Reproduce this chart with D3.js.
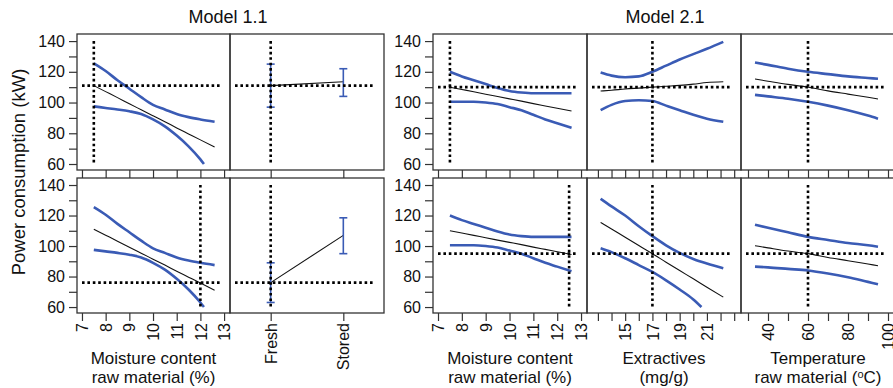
<!DOCTYPE html>
<html>
<head>
<meta charset="utf-8">
<script src="https://d3js.org/d3.v7.min.js"></script>
<style>
    body { margin: 0; background: #fff; }
    svg text { font-family: 'Liberation Sans', Arial, sans-serif; fill: #111; }
    .tick line { stroke: #333; }
</style>
</head>
<body>
<svg id="chart" width="893" height="388"></svg>
<script>
    // ---- data ----
    const yTickValues = [60, 70, 80, 90, 100, 110, 120, 130, 140];
    const yTickLabels = [60, 80, 100, 120, 140];

    // Model 1.1 : moisture (same curve in both rows)
    const m11MoistX = [7.5, 8, 8.5, 9, 9.5, 10, 10.5, 11, 11.5, 12, 12.6];
    const m11Fit = [111, 107.1, 103.2, 99.2, 95.3, 91.4, 87.5, 83.5, 79.6, 75.7, 71];
    const m11Upper = [125.5, 120.5, 114.5, 109, 103.5, 98.5, 95.5, 92.5, 90.5, 89, 87.5];
    const m11LowerX = [7.5, 8, 8.5, 9, 9.5, 10, 10.5, 11, 11.5, 12, 12.15];
    const m11Lower = [97.5, 96.5, 95.5, 94.3, 92.5, 89, 84.5, 78.5, 71.5, 63, 60];

    // Model 1.1 : storage
    const storageCats = ["Fresh", "Stored"];
    const storTopFit = [111, 113.5];
    const storTopLo = [97, 104];
    const storTopHi = [125, 122];
    const storBotFit = [76, 107];
    const storBotLo = [63, 95];
    const storBotHi = [89, 118.5];

    // Model 2.1 : moisture (same curve in both rows)
    const m21MoistX = [7.5, 8, 8.5, 9, 9.5, 10, 10.5, 11, 11.5, 12, 12.6];
    const m21Fit = [110, 108.5, 107, 105.4, 103.9, 102.4, 100.9, 99.3, 97.8, 96.3, 94.5];
    const m21Upper = [120, 117, 114.5, 112, 109.5, 107.5, 106.5, 106, 106, 106, 106];
    const m21Lower = [100.5, 100.5, 100.5, 100, 99, 97, 95, 92, 89, 86.5, 83.5];

    // Model 2.1 : extractives
    const extX = [13.2, 14, 15, 16, 17, 18, 19, 20, 21, 22.2];
    const extTopFit = [107.5, 108, 108.8, 109.4, 110, 110.6, 111.2, 112, 113, 113.5];
    const extTopUpper = [119.5, 117.5, 116.5, 117, 120, 124, 128, 131.5, 135, 139.5];
    const extTopLower = [95, 98.5, 101, 101.5, 101, 98, 95, 92, 89.5, 87.5];
    const extBotFit = [115.5, 111.2, 105.7, 100.3, 95, 89.4, 83.9, 78.5, 73, 66.5];
    const extBotUpper = [131, 126, 120, 113, 106.5, 100.5, 95.5, 91.5, 88.5, 85.5];
    const extBotLowerX = [13.2, 14, 15, 16, 17, 18, 19, 20, 20.6];
    const extBotLower = [98.5, 96, 92, 87.5, 83, 77.5, 71.5, 65, 60];

    // Model 2.1 : temperature
    const tempX = [33.5, 40, 50, 60, 70, 80, 90, 95];
    const tempTopFit = [115.3, 113.9, 111.8, 110, 107.6, 105.5, 103.4, 102.3];
    const tempTopUpper = [126, 124.5, 122, 120, 118.5, 117, 116, 115.5];
    const tempTopLower = [105, 104, 102.5, 100.5, 98, 95, 91.5, 89.5];
    const tempBotFit = [100.2, 98.8, 96.7, 95, 92.5, 90.4, 88.2, 87.1];
    const tempBotUpper = [114, 112, 109, 106, 104, 102, 100.5, 99.5];
    const tempBotLower = [86.5, 86, 85, 84, 82, 79.5, 76.5, 75];

    // reference (dotted) lines
    const m11RefX = [7.5, 12];
    const m11RefY = [111, 76];
    const m21MoistRefX = [7.5, 12.5];
    const m21ExtRefX = [17, 17];
    const m21TempRefX = [60, 60];
    const m21RefY = [110, 95];

    const moistTicks = [7, 8, 9, 10, 11, 12, 13];
    const extTicks = [13, 14, 15, 16, 17, 18, 19, 20, 21, 22, 23];
    const extLabels = [15, 17, 19, 21];
    const tempTicks = [30, 40, 50, 60, 70, 80, 90, 100];
    const tempLabels = [40, 60, 80, 100];

    // ---- layout ----
    const svg = d3.select("#chart");
    const rowBox = [[34, 170], [178, 313]];
    const yDomain = [56.1, 144.6];
    const blue = "#3a5bb5";

    const yScale = r => d3.scaleLinear().domain(yDomain).range([rowBox[r][1], rowBox[r][0]]);
    const zip = (xs, ys) => xs.map((x, i) => [x, ys[i]]);

    function drawPanel(p) {
        const y = yScale(p.row);
        const x = p.x;
        const [x0, x1] = x.range();
        const g = svg.append("g");
        const pos = v => x(v);

        // curves
        const line = d3.line().x(d => pos(d[0])).y(d => y(d[1])).curve(d3.curveMonotoneX);
        (p.curves || []).forEach(c => {
            g.append("path")
                .attr("d", line(c.pts))
                .attr("fill", "none")
                .attr("stroke", c.blue ? blue : "#111")
                .attr("stroke-width", c.blue ? 2.6 : 1.1)
                .attr("stroke-linejoin", "round");
        });

        // error bars (storage)
        if (p.bars) {
            g.append("path")
                .attr("d", line.curve(d3.curveLinear)(p.bars.map(b => [b.cat, b.fit])))
                .attr("fill", "none").attr("stroke", "#111").attr("stroke-width", 1.1);
            p.bars.forEach(b => {
                const cx = pos(b.cat);
                g.append("line").attr("x1", cx).attr("x2", cx).attr("y1", y(b.lo)).attr("y2", y(b.hi))
                    .attr("stroke", blue).attr("stroke-width", 1.6);
                [b.lo, b.hi].forEach(v => {
                    g.append("line").attr("x1", cx - 4).attr("x2", cx + 4).attr("y1", y(v)).attr("y2", y(v))
                        .attr("stroke", blue).attr("stroke-width", 1.6);
                });
            });
        }

        // dotted crosshair
        g.append("line")
            .attr("x1", pos(p.refX)).attr("x2", pos(p.refX))
            .attr("y1", y(140)).attr("y2", y(60))
            .attr("stroke", "#000").attr("stroke-width", 2.6).attr("stroke-dasharray", "2.6,2.8");
        g.append("line")
            .attr("x1", x0 + 5).attr("x2", x1 - 10)
            .attr("y1", y(p.refY)).attr("y2", y(p.refY))
            .attr("stroke", "#000").attr("stroke-width", 2.6).attr("stroke-dasharray", "2.6,2.8");

        // frame
        g.append("rect")
            .attr("x", x0).attr("y", rowBox[p.row][0])
            .attr("width", x1 - x0).attr("height", rowBox[p.row][1] - rowBox[p.row][0])
            .attr("fill", "none").attr("stroke", "#333").attr("stroke-width", 1.3);

        // x ticks
        const xAxis = d3.axisBottom(x).tickValues(p.ticks).tickSize(8).tickSizeOuter(0);
        const ax = svg.append("g").attr("transform", `translate(0,${rowBox[p.row][1]})`).call(xAxis);
        ax.select(".domain").remove();
        ax.selectAll(".tick line").attr("stroke", "#333").attr("stroke-width", 1.2);
        if (p.row === 0) {
            ax.selectAll("text").remove();
        } else {
            ax.selectAll("text")
                .text(d => (p.labels ? (p.labels.includes(d) ? d : "") : d))
                .attr("transform", "rotate(-90)")
                .attr("text-anchor", "end")
                .attr("x", -10).attr("y", 0).attr("dy", "0.35em")
                .style("font-size", "16px");
        }

        // y axis on first panel of each model
        if (p.yAxis) {
            const yAx = d3.axisLeft(y).tickValues(yTickValues).tickSize(8)
                .tickFormat(d => (yTickLabels.includes(d) ? d : ""));
            const ya = svg.append("g").attr("transform", `translate(${x0},0)`).call(yAx);
            ya.select(".domain").remove();
            ya.selectAll(".tick line").attr("stroke", "#333").attr("stroke-width", 1.2);
            ya.selectAll("text").attr("x", -12).style("font-size", "16px");
        }
    }

    const moistScale = (a, b) => d3.scaleLinear().domain([6.79, 13.25]).range([a, b]);
    const storScale = d3.scalePoint().domain(storageCats).range([230, 384]).padding(0.56);
    const extScale = d3.scaleLinear().domain([12.2, 23.5]).range([587, 741]);
    const tempScale = d3.scaleLinear().domain([26.5, 103.5]).range([741, 895]);

    const storBars = [
        storageCats.map((c, i) => ({ cat: c, fit: storTopFit[i], lo: storTopLo[i], hi: storTopHi[i] })),
        storageCats.map((c, i) => ({ cat: c, fit: storBotFit[i], lo: storBotLo[i], hi: storBotHi[i] }))
    ];
    const extCurves = [
        [zip(extX, extTopUpper), zip(extX, extTopLower), zip(extX, extTopFit)],
        [zip(extX, extBotUpper), zip(extBotLowerX, extBotLower), zip(extX, extBotFit)]
    ];
    const tempCurves = [
        [zip(tempX, tempTopUpper), zip(tempX, tempTopLower), zip(tempX, tempTopFit)],
        [zip(tempX, tempBotUpper), zip(tempX, tempBotLower), zip(tempX, tempBotFit)]
    ];
    const asCurves = c => [{ pts: c[0], blue: true }, { pts: c[1], blue: true }, { pts: c[2], blue: false }];

    [0, 1].forEach(r => {
        drawPanel({
            row: r, x: moistScale(77, 230), ticks: moistTicks, yAxis: true,
            refX: m11RefX[r], refY: m11RefY[r],
            curves: asCurves([zip(m11MoistX, m11Upper), zip(m11LowerX, m11Lower), zip(m11MoistX, m11Fit)])
        });
        drawPanel({
            row: r, x: storScale, ticks: storageCats,
            refX: "Fresh", refY: m11RefY[r], bars: storBars[r]
        });
        drawPanel({
            row: r, x: moistScale(433, 587), ticks: moistTicks, yAxis: true,
            refX: m21MoistRefX[r], refY: m21RefY[r],
            curves: asCurves([zip(m21MoistX, m21Upper), zip(m21MoistX, m21Lower), zip(m21MoistX, m21Fit)])
        });
        drawPanel({
            row: r, x: extScale, ticks: extTicks, labels: extLabels,
            refX: m21ExtRefX[r], refY: m21RefY[r], curves: asCurves(extCurves[r])
        });
        drawPanel({
            row: r, x: tempScale, ticks: tempTicks, labels: tempLabels,
            refX: m21TempRefX[r], refY: m21RefY[r], curves: asCurves(tempCurves[r])
        });
    });

    // titles
    svg.append("text").attr("x", 228).attr("y", 23).attr("text-anchor", "middle")
        .style("font-size", "18px").text("Model 1.1");
    svg.append("text").attr("x", 665).attr("y", 23).attr("text-anchor", "middle")
        .style("font-size", "18px").text("Model 2.1");

    svg.append("text").attr("transform", "translate(25,172) rotate(-90)").attr("text-anchor", "middle")
        .style("font-size", "18.5px").text("Power consumption (kW)");

    // axis titles
    const axisTitles = [
        { cx: 153.5, lines: ["Moisture content", "raw material (%)"] },
        { cx: 510, lines: ["Moisture content", "raw material (%)"] },
        { cx: 664, lines: ["Extractives", "(mg/g)"] }
    ];
    axisTitles.forEach(t => {
        t.lines.forEach((l, i) => {
            svg.append("text").attr("x", t.cx).attr("y", 364 + i * 19).attr("text-anchor", "middle")
                .style("font-size", "17px").text(l);
        });
    });
    svg.append("text").attr("x", 818).attr("y", 364).attr("text-anchor", "middle")
        .style("font-size", "17px").text("Temperature");
    const tt = svg.append("text").attr("x", 818).attr("y", 383).attr("text-anchor", "middle")
        .style("font-size", "17px");
    tt.append("tspan").text("raw material (");
    tt.append("tspan").attr("dy", -5).style("font-size", "11px").text("o");
    tt.append("tspan").attr("dy", 5).text("C)");
</script>
</body>
</html>
